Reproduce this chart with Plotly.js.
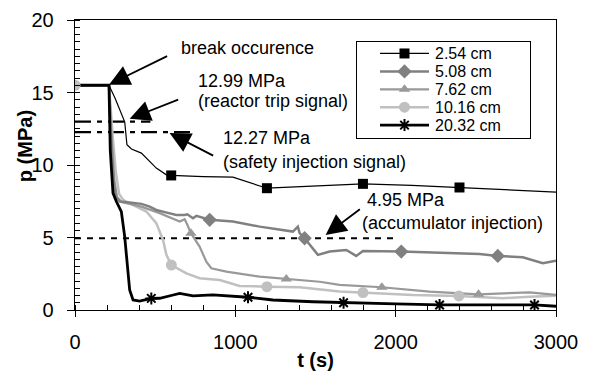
<!DOCTYPE html>
<html><head><meta charset="utf-8">
<script src="https://cdn.plot.ly/plotly-3.0.1.min.js"></script>
<style>html,body{margin:0;padding:0;background:#fff}#chart{width:593px;height:379px}</style>
</head><body><div id="chart"></div>
<script>
// ---- data (t in s, p in MPa) ----
const s254_t = [0, 212, 250, 290, 310, 324, 352, 414, 455, 507, 570, 600, 800, 985, 1197, 1500, 1796, 2100, 2398, 2700, 3000];
const s254_p = [15.5, 15.5, 14.6, 13.6, 12.98, 11.4, 11.1, 10.82, 10.36, 9.79, 9.32, 9.28, 9.2, 9.16, 8.4, 8.55, 8.7, 8.6, 8.45, 8.3, 8.13];
const s508_t = [0, 212, 225, 240, 255, 279, 341, 414, 466, 507, 560, 632, 684, 700, 736, 757, 840, 985, 1152, 1359, 1390, 1401, 1432, 1515, 1588, 1692, 1754, 1796, 2035, 2300, 2523, 2637, 2793, 2918, 3000];
const s508_p = [15.5, 15.5, 12, 9, 7.8, 7.48, 7.41, 7.32, 7.13, 6.9, 6.75, 6.56, 6.55, 6.6, 6.33, 6.49, 6.22, 6.1, 5.75, 5.41, 5.75, 5.3, 4.95, 3.8, 4.03, 4.14, 3.73, 4.07, 4.03, 3.95, 3.87, 3.73, 3.64, 3.22, 3.4];
const s762_t = [0, 212, 228, 245, 262, 290, 414, 528, 653, 684, 700, 723, 777, 819, 850, 944, 1152, 1318, 1526, 1650, 1796, 1914, 2211, 2517, 2835, 3000];
const s762_p = [15.5, 15.5, 12, 9, 7.8, 7.45, 7.13, 6.68, 6.1, 6.26, 5.9, 5.3, 4.37, 3.34, 2.88, 2.65, 2.3, 2.14, 1.95, 1.73, 1.66, 1.57, 1.27, 1.08, 1.22, 1.04];
const s1016_t = [0, 212, 235, 255, 275, 300, 320, 445, 507, 549, 570, 601, 695, 777, 902, 1027, 1197, 1401, 1650, 1796, 2107, 2394, 2668, 2835, 3000];
const s1016_p = [15.5, 15.5, 12, 9.5, 8.0, 7.6, 7.48, 6.79, 5.99, 4.83, 3.8, 3.1, 2.53, 2.19, 2.07, 1.66, 1.61, 1.57, 1.27, 1.2, 1.04, 0.97, 0.81, 0.92, 0.99];
const s2032_t = [0, 212, 220, 237, 258, 289, 310, 330, 341, 362, 403, 476, 528, 600, 653, 736, 860, 1079, 1234, 1484, 1675, 2000, 2274, 2690, 2866, 3000];
const s2032_p = [15.5, 15.5, 11, 8.06, 7.48, 6.79, 5.06, 2.99, 1.38, 0.69, 0.62, 0.8, 0.81, 1.0, 1.15, 0.97, 1.04, 0.88, 0.69, 0.57, 0.5, 0.42, 0.35, 0.35, 0.35, 0.26];

const m254_t = [600, 1197, 1796, 2398];
const m254_p = [9.28, 8.4, 8.7, 8.45];
const m508_t = [840, 1432, 2035, 2637];
const m508_p = [6.22, 4.95, 4.03, 3.73];
const m762_t = [723, 1318, 1914, 2517];
const m762_p = [5.3, 2.14, 1.57, 1.08];
const m1016_t = [0, 601, 1197, 1796, 2394];
const m1016_p = [15.5, 3.1, 1.61, 1.2, 0.97];
const m2032_t = [476, 1079, 1675, 2274, 2866];
const m2032_p = [0.8, 0.88, 0.5, 0.35, 0.35];

const seriesNames = ['2.54 cm', '5.08 cm', '7.62 cm', '10.16 cm', '20.32 cm'];

const thr1299_t = [0, 470];
const thr1299_p = [12.99, 12.99];
const thr1227_t = [0, 746];
const thr1227_p = [12.27, 12.27];
const thr495_t = [0, 2000];
const thr495_p = [4.95, 4.95];

const xTicks = [0, 1000, 2000, 3000];
const yTicks = [0, 5, 10, 15, 20];
const xTitle = 't (s)';
const yTitle = 'p (MPa)';

// ---- styles ----
const FONT = 'Liberation Sans, Arial, sans-serif';
const styles = [
  {color: '#000000', width: 1.2, symbol: 'square', msize: 10, mcolor: '#000000'},
  {color: '#808080', width: 2.5, symbol: 'diamond', msize: 11, mcolor: '#808080'},
  {color: '#999999', width: 2.2, symbol: 'triangle-up', msize: 10, mcolor: '#999999'},
  {color: '#c0c0c0', width: 2.5, symbol: 'circle', msize: 11, mcolor: '#c0c0c0'},
  {color: '#000000', width: 2.8, symbol: 'asterisk-open', msize: 10, mcolor: '#000000'}
];
function markerOf(st) {
  return st.symbol === 'asterisk-open'
    ? {symbol: st.symbol, size: st.msize, color: st.mcolor, line: {color: st.mcolor, width: 2}}
    : {symbol: st.symbol, size: st.msize, color: st.mcolor, line: {width: 0}};
}
const lines = [[s254_t, s254_p], [s508_t, s508_p], [s762_t, s762_p], [s1016_t, s1016_p], [s2032_t, s2032_p]];
const marks = [[m254_t, m254_p], [m508_t, m508_p], [m762_t, m762_p], [m1016_t, m1016_p], [m2032_t, m2032_p]];

const traces = [];
function thr(t, p, dash) {
  return {x: t, y: p, mode: 'lines', showlegend: false, hoverinfo: 'skip',
          line: {color: '#000', width: 2.2, dash: dash}};
}
traces.push(thr(thr1299_t, thr1299_p, '16px,6px,5px,6px'));
traces.push(thr(thr1227_t, thr1227_p, '16px,6px,5px,6px'));
traces.push(thr(thr495_t, thr495_p, '6px,6px'));

const drawOrder = [3, 2, 1, 4, 0];
drawOrder.forEach(i => {
  traces.push({x: lines[i][0], y: lines[i][1], mode: 'lines', showlegend: false,
    line: {color: styles[i].color, width: styles[i].width}});
});
drawOrder.forEach(i => {
  traces.push({x: marks[i][0], y: marks[i][1], mode: 'markers', showlegend: false, marker: markerOf(styles[i])});
});

// ---- legend box (inset axes in pixel-like units) ----
const LEG = {x0: 23, x1: 72, xm: 47.5, xt: 77, w: 173};
seriesNames.forEach((nm, i) => {
  const st = styles[i];
  traces.push({x: [LEG.x0, LEG.x1], y: [i, i], xaxis: 'x2', yaxis: 'y2', mode: 'lines',
    showlegend: false, line: {color: st.color, width: st.width}});
  traces.push({x: [LEG.xm], y: [i], xaxis: 'x2', yaxis: 'y2', mode: 'markers',
    showlegend: false, marker: markerOf(st)});
});

const annFont = {family: FONT, size: 18, color: '#000'};
function txt(x, y, s) {
  return {x: x, y: y, xref: 'x', yref: 'y', text: s, showarrow: false,
          xanchor: 'left', yanchor: 'middle', font: annFont};
}
function arr(x, y, ax, ay) {
  return {x: x, y: y, ax: ax, ay: ay, xref: 'x', yref: 'y', axref: 'x', ayref: 'y',
          text: '', showarrow: true, arrowhead: 2, arrowsize: 2.3, arrowwidth: 1.8, arrowcolor: '#000'};
}
const annotations = [
  txt(648, 18.09, 'break occurence'),
  txt(757, 15.77, '12.99 MPa'),
  txt(757, 14.39, '(reactor trip signal)'),
  txt(908, 11.86, '12.27 MPa'),
  txt(908, 10.22, '(safety injection signal)'),
  txt(1806, 7.6, '4.95 MPa'),
  txt(1779, 5.99, '(accumulator injection)'),
  arr(212, 15.54, 584, 17.56),
  arr(341, 13.19, 653, 14.55),
  arr(590, 12.2, 871, 10.59),
  arr(1563, 5.18, 1786, 7.02),
  // y-axis title (placed as in the reference, slightly above centre)
  {x: -0.1036, y: 0.5655, xref: 'paper', yref: 'paper', text: '<b>' + yTitle + '</b>', textangle: -90,
   showarrow: false, xanchor: 'center', yanchor: 'middle', font: {family: FONT, size: 20, color: '#000'}}
];
seriesNames.forEach((nm, i) => {
  annotations.push({x: LEG.xt, y: i, xref: 'x2', yref: 'y2', text: nm, showarrow: false,
    xanchor: 'left', yanchor: 'middle', borderpad: 0,
    font: {family: FONT, size: 16, color: '#000'}});
});

const layout = {
  width: 593, height: 379,
  margin: {l: 75, r: 37, t: 20, b: 69},
  paper_bgcolor: '#fff', plot_bgcolor: '#fff',
  font: {family: FONT, size: 20, color: '#000'},
  showlegend: false,
  xaxis: {range: [0, 3000], tickvals: xTicks, ticktext: xTicks.map(String),
          showgrid: false, zeroline: false, showline: true, linecolor: '#000', linewidth: 1.3,
          mirror: true, ticks: 'outside', ticklen: 6, tickcolor: '#000', ticklabelstandoff: 8,
          minor: {dtick: 200, ticks: 'inside', ticklen: 5, tickcolor: '#000', showgrid: false},
          tickfont: {family: FONT, size: 20},
          title: {text: '<b>' + xTitle + '</b>', font: {family: FONT, size: 20}, standoff: 0}},
  yaxis: {range: [0, 20], tickvals: yTicks, ticktext: yTicks.map(String),
          showgrid: false, zeroline: false, showline: true, linecolor: '#000', linewidth: 1.3,
          mirror: true, ticks: 'outside', ticklen: 7, tickcolor: '#000', ticklabelstandoff: 9,
          minor: {dtick: 0.5, ticks: 'inside', ticklen: 5, tickcolor: '#000', showgrid: false},
          tickfont: {family: FONT, size: 20}},
  xaxis2: {domain: [0.5863, 0.9459], range: [0, LEG.w], anchor: 'y2', showgrid: false, zeroline: false,
           showticklabels: false, ticks: '', showline: true, mirror: true, linecolor: '#000', linewidth: 1},
  yaxis2: {domain: [0.5931, 0.9241], range: [4.72, -0.64], anchor: 'x2', showgrid: false, zeroline: false,
           showticklabels: false, ticks: '', showline: true, mirror: true, linecolor: '#000', linewidth: 1},
  annotations: annotations
};
Plotly.newPlot('chart', traces, layout, {staticPlot: true, displayModeBar: false});
</script></body></html>
